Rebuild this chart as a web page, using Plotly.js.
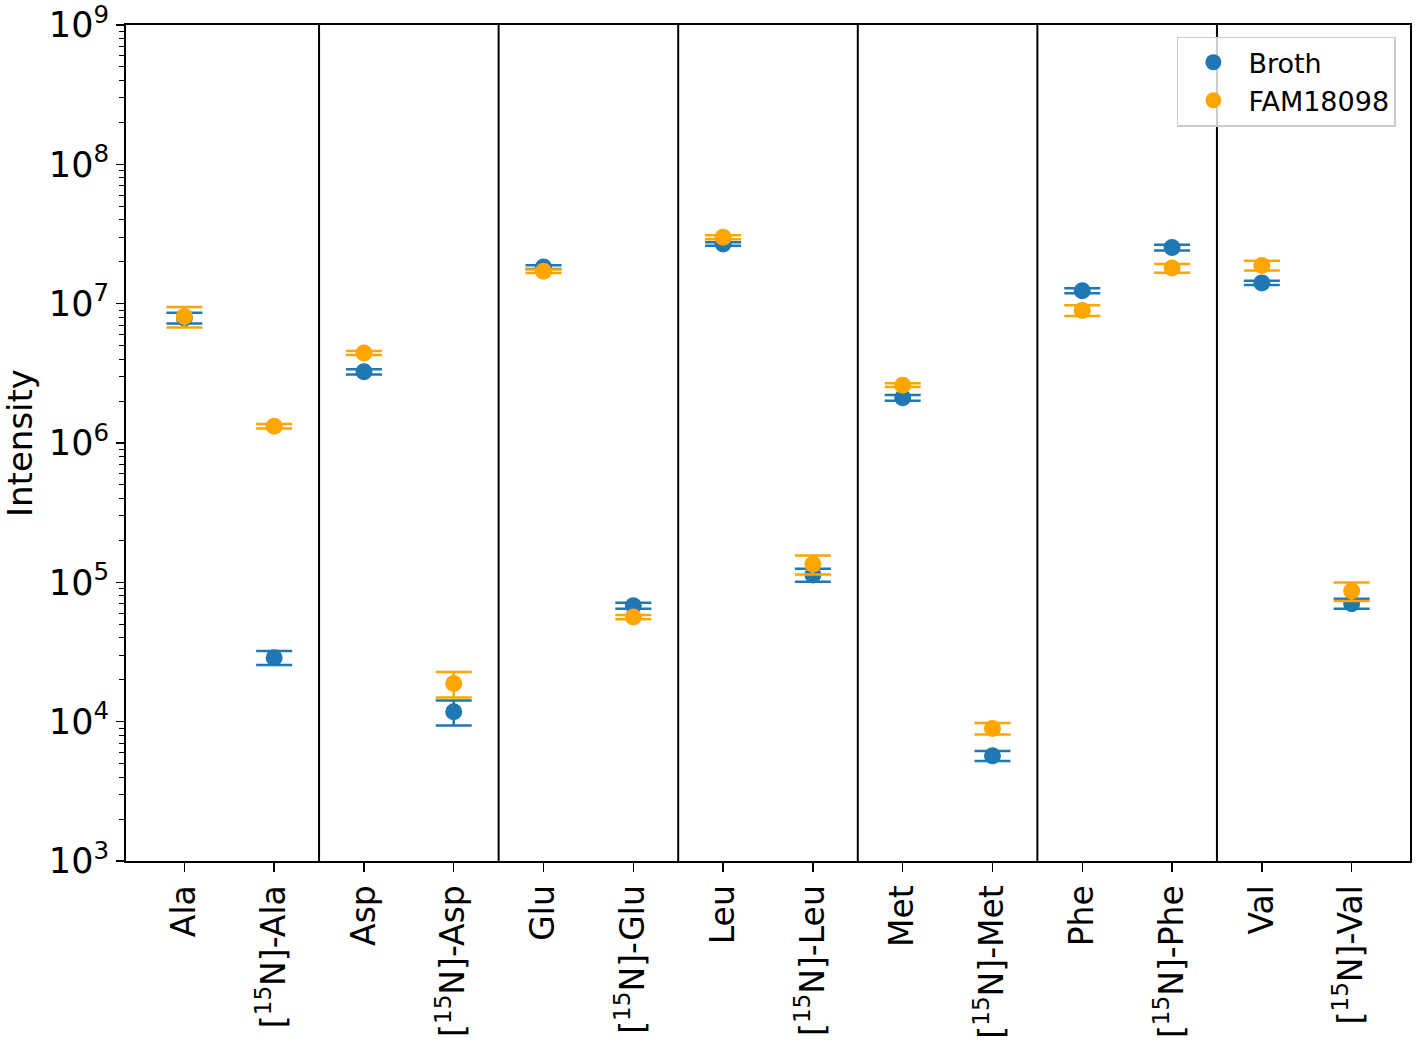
<!DOCTYPE html>
<html>
<head>
<meta charset="utf-8">
<script src="https://cdn.plot.ly/plotly-3.0.1.min.js"></script>
<style>
  html, body { margin: 0; padding: 0; background: #fff; }
  #intensity-plot { width: 1417px; height: 1049px; }
</style>
</head>
<body>
<div id="intensity-plot"></div>
<script>
// amino acids, unlabelled and [15N]-labelled
var categories = [
    'Ala', '[<sup>15</sup>N]-Ala',
    'Asp', '[<sup>15</sup>N]-Asp',
    'Glu', '[<sup>15</sup>N]-Glu',
    'Leu', '[<sup>15</sup>N]-Leu',
    'Met', '[<sup>15</sup>N]-Met',
    'Phe', '[<sup>15</sup>N]-Phe',
    'Val', '[<sup>15</sup>N]-Val'
];

var broth     = [7.9e6, 2.88e4, 3.24e6, 1.18e4, 1.83e7, 6.8e4, 2.68e7, 1.13e5, 2.11e6, 5.69e3, 1.24e7, 2.53e7, 1.41e7, 7.03e4];
var broth_err = [7.0e5, 3.3e3, 1.4e5, 2.4e3, 6.0e5, 3.5e3, 8.0e5, 1.2e4, 1.0e5, 4.7e2, 5.0e5, 1.2e6, 5.0e5, 5.8e3];

var fam       = [8.1e6, 1.32e6, 4.43e6, 1.88e4, 1.71e7, 5.64e4, 3.0e7, 1.35e5, 2.60e6, 8.94e3, 8.95e6, 1.80e7, 1.88e7, 8.66e4];
var fam_err   = [1.35e6, 5.0e4, 1.5e5, 3.9e3, 5.0e5, 2.0e3, 1.0e6, 2.1e4, 8.0e4, 8.5e2, 8.0e5, 1.3e6, 1.5e6, 1.3e4];

// y axis decades and their labels
var y_tickvals = [1e3, 1e4, 1e5, 1e6, 1e7, 1e8, 1e9];
var y_ticktext = ['10<sup>3</sup>', '10<sup>4</sup>', '10<sup>5</sup>', '10<sup>6</sup>',
                  '10<sup>7</sup>', '10<sup>8</sup>', '10<sup>9</sup>'];

// group separators sit between each pair
var separators = [1.5, 3.5, 5.5, 7.5, 9.5, 11.5];

var blue = '#1f77b4';
var orange = '#ffa500';

function make_trace(name, values, errors, color){
    return {
        x: categories,
        y: values,
        name: name,
        type: 'scatter',
        mode: 'markers',
        marker: { color: color, size: 17 },
        error_y: {
            type: 'data',
            array: errors,
            visible: true,
            color: color,
            thickness: 2.5,
            width: 18
        }
    };
}

var data = [
    make_trace('Broth', broth, broth_err, blue),
    make_trace('FAM18098', fam, fam_err, orange)
];

var shapes = separators.map(function(s){
    return {
        type: 'line', xref: 'x', yref: 'paper',
        x0: s, x1: s, y0: 0, y1: 1,
        line: { color: 'black', width: 2 }
    };
});

var layout = {
    width: 1417,
    height: 1049,
    margin: { l: 126, r: 7, t: 25, b: 188 },
    paper_bgcolor: 'white',
    plot_bgcolor: 'white',
    font: { family: 'DejaVu Sans', color: 'black' },
    showlegend: true,
    legend: {
        x: 0.989, y: 0.986, xanchor: 'right', yanchor: 'top',
        bordercolor: '#cccccc', borderwidth: 1.5, bgcolor: 'rgba(255,255,255,0.8)',
        font: { size: 27, family: 'DejaVu Sans' },
        itemwidth: 60
    },
    xaxis: {
        type: 'category',
        range: [-0.65, 13.65],
        tickangle: -90,
        ticks: 'outside', ticklen: 9, tickwidth: 1.5, tickcolor: 'black',
        tickfont: { size: 33 },
        showgrid: false, zeroline: false,
        showline: true, linecolor: 'black', linewidth: 2, mirror: true
    },
    yaxis: {
        type: 'log',
        range: [2.99999, 9.00001],
        tickmode: 'array',
        tickvals: y_tickvals,
        ticktext: y_ticktext,
        ticklabeloverflow: 'allow',
        ticks: 'outside', ticklen: 8, tickwidth: 1.5, tickcolor: 'black',
        minor: { ticks: 'outside', ticklen: 5, tickwidth: 1, tickcolor: 'black', dtick: 'D1', showgrid: false },
        tickfont: { size: 35 },
        showgrid: false, zeroline: false,
        showline: true, linecolor: 'black', linewidth: 2, mirror: true,
        title: { text: 'Intensity', font: { size: 34 }, standoff: 10 }
    },
    shapes: shapes
};

Plotly.newPlot('intensity-plot', data, layout, { displaylogo: false, staticPlot: true });
</script>
</body>
</html>
